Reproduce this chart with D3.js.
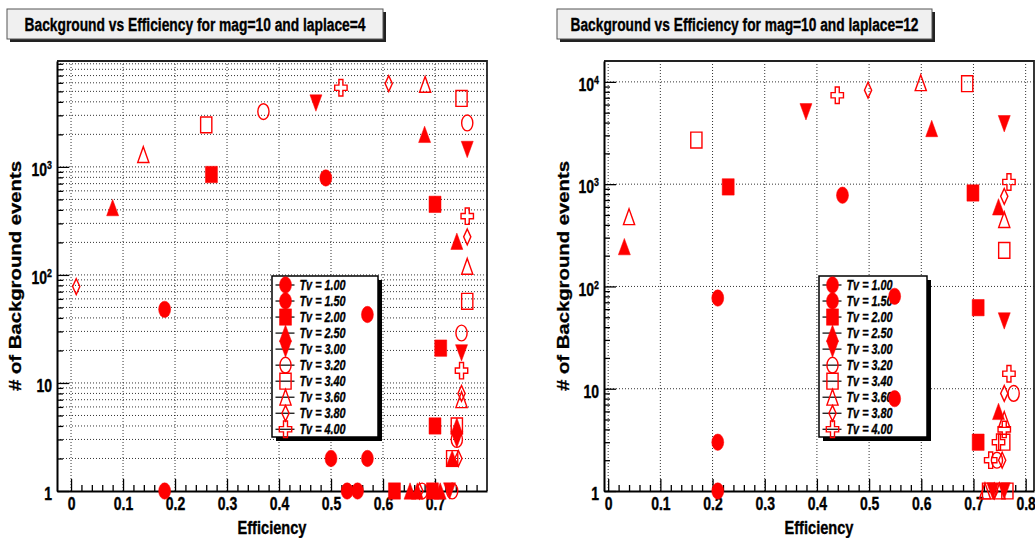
<!DOCTYPE html>
<html>
<head>
<meta charset="utf-8">
<script src="https://cdn.jsdelivr.net/npm/d3@7"></script>
<style>
  body { margin: 0; background: #fff; }
  svg { display: block; font-family: "Liberation Sans", Arial, Helvetica, sans-serif; }
  svg text { stroke: #000; stroke-width: 0.35px; }
</style>
</head>
<body>
<svg id="canvas" width="1035" height="538"></svg>
<script>
// ---------------------------------------------------------------
// Series labels (one per threshold value)
const tvLabels = ["Tv = 1.00", "Tv = 1.50", "Tv = 2.00", "Tv = 2.50", "Tv = 3.00",
                  "Tv = 3.20", "Tv = 3.40", "Tv = 3.60", "Tv = 3.80", "Tv = 4.00"];

// laplace = 4 : [efficiency, # of background events]
const lap4Tv100 = [[0.49, 790], [0.57, 43], [0.57, 2], [0.551, 1]];
const lap4Tv150 = [[0.18, 48], [0.18, 1], [0.50, 2], [0.531, 1]];
const lap4Tv200 = [[0.27, 850], [0.70, 450], [0.711, 21], [0.70, 4], [0.622, 1], [0.695, 1]];
const lap4Tv250 = [[0.08, 420], [0.68, 2000], [0.742, 205], [0.742, 4], [0.733, 2], [0.652, 1], [0.666, 1], [0.71, 1]];
const lap4Tv300 = [[0.471, 3900], [0.762, 1450], [0.751, 19], [0.742, 3], [0.728, 1]];
const lap4Tv320 = [[0.37, 3250], [0.762, 2550], [0.751, 29], [0.742, 3], [0.675, 1], [0.733, 1]];
const lap4Tv340 = [[0.26, 2450], [0.751, 4300], [0.762, 57], [0.742, 4], [0.733, 2]];
const lap4Tv360 = [[0.139, 1300], [0.681, 5800], [0.762, 120], [0.751, 7]];
const lap4Tv380 = [[0.01, 78], [0.611, 5900], [0.762, 225], [0.751, 8], [0.745, 2], [0.67, 1]];
const lap4Tv400 = [[0.519, 5400], [0.762, 350], [0.751, 13]];

// laplace = 12 : [efficiency, # of background events]
const lap12Tv100 = [[0.449, 780], [0.549, 80], [0.549, 8]];
const lap12Tv150 = [[0.21, 77], [0.21, 3], [0.21, 1]];
const lap12Tv200 = [[0.23, 940], [0.699, 820], [0.709, 62], [0.709, 3]];
const lap12Tv250 = [[0.031, 245], [0.62, 3500], [0.748, 600], [0.748, 6]];
const lap12Tv300 = [[0.379, 5100], [0.759, 3900], [0.759, 46], [0.737, 1], [0.759, 1]];
const lap12Tv320 = [[0.777, 9], [0.745, 2]];
const lap12Tv340 = [[0.169, 2700], [0.688, 9600], [0.759, 225], [0.759, 3], [0.728, 1], [0.765, 1]];
const lap12Tv360 = [[0.04, 480], [0.599, 9800], [0.759, 450], [0.759, 5], [0.722, 1], [0.75, 1]];
const lap12Tv380 = [[0.498, 8300], [0.759, 760], [0.759, 9], [0.755, 2], [0.74, 1]];
const lap12Tv400 = [[0.439, 7400], [0.768, 1050], [0.768, 14], [0.759, 4], [0.748, 3], [0.733, 2]];

const lap4Series = [lap4Tv100, lap4Tv150, lap4Tv200, lap4Tv250, lap4Tv300,
                    lap4Tv320, lap4Tv340, lap4Tv360, lap4Tv380, lap4Tv400];
const lap12Series = [lap12Tv100, lap12Tv150, lap12Tv200, lap12Tv250, lap12Tv300,
                     lap12Tv320, lap12Tv340, lap12Tv360, lap12Tv380, lap12Tv400];

// Axis ticks
const xTicksLap4 = [0, 0.1, 0.2, 0.3, 0.4, 0.5, 0.6, 0.7];
const xTicksLap12 = [0, 0.1, 0.2, 0.3, 0.4, 0.5, 0.6, 0.7, 0.8];
const yTicksLap4 = [1, 10, 100, 1000];
const yTicksLap12 = [1, 10, 100, 1000, 10000];

const titleLap4 = "Background vs Efficiency for mag=10 and laplace=4";
const titleLap12 = "Background vs Efficiency for mag=10 and laplace=12";
const xTitle = "Efficiency";
const yTitle = "# of Background events";

// ---------------------------------------------------------------
// Marker styles, one per series
const markerShapes = ["fCircle", "fCircle", "fSquare", "fTriUp", "fTriDown",
                      "oCircle", "oSquare", "oTriUp", "oDiamond", "oCross"];
const RED = "#ff0000";

function markerPath(shape) {
  const open = shape[0] === "o";
  const rx = open ? 5.6 : 6.0, ry = open ? 7.9 : 8.2;
  switch (shape.slice(1)) {
    case "Circle":
      return `M${-rx},0A${rx},${ry} 0 1,0 ${rx},0A${rx},${ry} 0 1,0 ${-rx},0Z`;
    case "Square":
      return `M${-rx},${-ry}H${rx}V${ry}H${-rx}Z`;
    case "TriUp":
      return `M0,${-ry}L${rx},${ry}L${-rx},${ry}Z`;
    case "TriDown":
      return `M0,${ry}L${rx},${-ry}L${-rx},${-ry}Z`;
    case "Diamond": {
      const dx = 3.6;
      return `M0,${-ry}L${dx},0L0,${ry}L${-dx},0Z`;
    }
    case "Cross": {
      const a = 2.0, b = 2.6, cx = 6.2, cy = 8.2;
      return `M${-a},${-cy}H${a}V${-b}H${cx}V${b}H${a}V${cy}H${-a}V${b}H${-cx}V${-b}H${-a}Z`;
    }
  }
}

function styleMarker(sel, shape) {
  const open = shape[0] === "o";
  sel.attr("d", markerPath(shape))
     .attr("fill", open ? "none" : RED)
     .attr("stroke", RED)
     .attr("stroke-width", open ? 1.4 : 0.5);
}

const svg = d3.select("#canvas");
const SX = 0.8; // horizontal squeeze of all text

function fmtX(d) { return d === 0 ? "0" : d3.format(".1f")(d); }

function drawPanel(cfg) {
  const x = d3.scaleLinear().domain(cfg.xDomain).range([cfg.left, cfg.right]);
  const y = d3.scaleLog().domain(cfg.yDomain).range([cfg.bottom, cfg.top]);
  const g = svg.append("g");

  const yMajor = cfg.yTicks;
  const yMinor = [];
  for (let p = 0; p < 5; p++) for (let m = 2; m <= 9; m++) {
    const v = m * Math.pow(10, p);
    if (v < cfg.yDomain[1]) yMinor.push(v);
  }
  const xMinor = d3.range(0, 60).filter(i => i % 5 !== 0).map(i => i * 0.02)
                   .filter(v => v < cfg.xDomain[1] - 0.005);

  // grid
  const grid = g.append("g").attr("stroke", "#000").attr("stroke-width", 1)
                .attr("stroke-dasharray", "1,2").attr("stroke-opacity", 0.8);
  grid.selectAll("line.gx").data(cfg.xTicks).join("line")
      .attr("x1", d => x(d)).attr("x2", d => x(d))
      .attr("y1", cfg.top).attr("y2", cfg.bottom);
  const hGrid = (cfg.denseGrid ? yMajor.concat(yMinor) : yMajor).filter(v => v > 1);
  grid.selectAll("line.gy").data(hGrid).join("line")
      .attr("x1", cfg.left).attr("x2", cfg.right)
      .attr("y1", d => y(d)).attr("y2", d => y(d));

  // frame top / right
  g.append("path")
   .attr("d", `M${cfg.left},${cfg.top}H${cfg.right}V${cfg.bottom}`)
   .attr("fill", "none").attr("stroke", "#222").attr("stroke-width", 1.8);

  // x axis
  const xAx = g.append("g").attr("transform", `translate(0,${cfg.bottom})`)
    .call(d3.axisBottom(x).tickValues(cfg.xTicks).tickSize(-12).tickSizeOuter(0)
          .tickPadding(7).tickFormat(fmtX));
  g.append("g").attr("transform", `translate(0,${cfg.bottom})`)
    .call(d3.axisBottom(x).tickValues(xMinor).tickSize(-6).tickSizeOuter(0).tickFormat(""))
    .call(s => s.select(".domain").remove());

  // y axis
  const yAx = g.append("g").attr("transform", `translate(${cfg.left},0)`)
    .call(d3.axisLeft(y).tickValues(yMajor).tickSize(-12).tickSizeOuter(0).tickPadding(6)
          .tickFormat(d => String(d)));
  g.append("g").attr("transform", `translate(${cfg.left},0)`)
    .call(d3.axisLeft(y).tickValues(yMinor).tickSize(-6).tickSizeOuter(0).tickFormat(""))
    .call(s => s.select(".domain").remove());

  g.selectAll(".domain").attr("stroke", "#000").attr("stroke-width", 2);
  g.selectAll(".tick line").attr("stroke", "#000").attr("stroke-width", 1.3);

  xAx.selectAll("text")
     .attr("font-size", 17.5).attr("font-weight", "bold").attr("fill", "#000")
     .attr("font-family", "Liberation Sans, Arial, sans-serif")
     .attr("transform", `scale(${SX},1)`);

  yAx.selectAll("text").each(function (d) {
    const t = d3.select(this);
    t.text(null)
     .attr("x", -5 / SX).attr("dy", "0.5em")
     .attr("font-size", 17.5).attr("font-weight", "bold").attr("fill", "#000")
     .attr("font-family", "Liberation Sans, Arial, sans-serif")
     .attr("transform", `scale(${SX},1)`);
    const p = Math.round(Math.log10(d));
    if (p <= 1) {
      t.text(String(d));
    } else {
      t.append("tspan").text("10");
      t.append("tspan").attr("dy", -7).attr("font-size", 11).text(String(p));
    }
  });

  // axis titles
  g.append("text")
   .attr("transform", `translate(${(cfg.left + cfg.right) / 2},534)`)
   .attr("text-anchor", "middle").attr("font-size", 18).attr("font-weight", "bold")
   .attr("textLength", 69).attr("lengthAdjust", "spacingAndGlyphs")
   .text(xTitle);
  g.append("text")
   .attr("transform", `translate(${cfg.yTitleX},${(cfg.top + cfg.bottom) / 2}) rotate(-90) scale(1,0.84)`)
   .attr("text-anchor", "middle").attr("font-size", 20).attr("font-weight", "bold")
   .attr("textLength", 230).attr("lengthAdjust", "spacingAndGlyphs")
   .text(yTitle);

  // title box
  const tb = cfg.titleBox;
  g.append("rect").attr("x", tb.x + 3).attr("y", tb.y + 3).attr("width", tb.w).attr("height", tb.h)
   .attr("fill", "#222");
  g.append("rect").attr("x", tb.x).attr("y", tb.y).attr("width", tb.w).attr("height", tb.h)
   .attr("fill", "#f0f0f0").attr("stroke", "#555").attr("stroke-width", 1);
  g.append("text").attr("x", tb.x + tb.w / 2).attr("y", tb.y + 21.5)
   .attr("text-anchor", "middle").attr("font-size", 17.5).attr("font-weight", "bold")
   .attr("textLength", tb.textW).attr("lengthAdjust", "spacingAndGlyphs")
   .text(cfg.title);

  // legend
  const lg = cfg.legend;
  g.append("rect").attr("x", lg.x + 4).attr("y", lg.y + 4).attr("width", lg.w).attr("height", lg.h)
   .attr("fill", "#000");
  g.append("rect").attr("x", lg.x).attr("y", lg.y).attr("width", lg.w).attr("height", lg.h)
   .attr("fill", "#fff").attr("stroke", "#000").attr("stroke-width", 1.5);
  const rows = g.append("g").selectAll("g").data(tvLabels).join("g")
    .attr("transform", (d, i) => `translate(${lg.x + 13.5},${lg.y + 9 + i * 16.03})`);
  rows.append("line").attr("x1", -10).attr("x2", 9).attr("stroke", "#000").attr("stroke-width", 1.2);
  rows.append("path").each(function (d, i) { styleMarker(d3.select(this), markerShapes[i]); });
  rows.append("text").attr("x", 14).attr("y", 5.2)
    .attr("font-size", 15).attr("font-weight", "bold").attr("font-style", "italic")
    .attr("textLength", 46).attr("lengthAdjust", "spacingAndGlyphs")
    .text(d => d);

  // data markers
  cfg.series.forEach((pts, i) => {
    g.append("g").selectAll("path").data(pts).join("path")
     .attr("transform", d => `translate(${x(d[0])},${y(d[1])})`)
     .each(function () { styleMarker(d3.select(this), markerShapes[i]); });
  });
}

drawPanel({
  left: 57, right: 487, top: 61, bottom: 491,
  xDomain: [-0.027, 0.8], yDomain: [1, 9550],
  xTicks: xTicksLap4, yTicks: yTicksLap4, denseGrid: true,
  title: titleLap4, titleBox: { x: 7, y: 9, w: 376, h: 30, textW: 341 },
  legend: { x: 272, y: 276, w: 106, h: 161 },
  yTitleX: 21, series: lap4Series
});

drawPanel({
  left: 604, right: 1034, top: 61, bottom: 491,
  xDomain: [-0.008, 0.816], yDomain: [1, 16000],
  xTicks: xTicksLap12, yTicks: yTicksLap12, denseGrid: false,
  title: titleLap12, titleBox: { x: 557, y: 9, w: 375, h: 30, textW: 348 },
  legend: { x: 819, y: 276, w: 108, h: 161 },
  yTitleX: 569, series: lap12Series
});
</script>
</body>
</html>
